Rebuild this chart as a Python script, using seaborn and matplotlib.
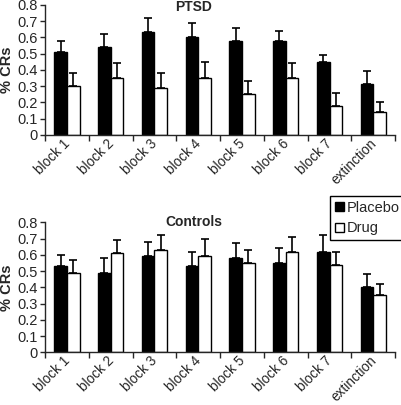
import matplotlib
matplotlib.use("Agg")
import matplotlib.pyplot as plt
import matplotlib.transforms as mtransforms
import seaborn as sns
import pandas as pd
from matplotlib.patches import Patch

blocks = ["block 1", "block 2", "block 3", "block 4", "block 5", "block 6", "block 7", "extinction"]
groups = ["Placebo", "Drug"]

ptsd_placebo = [0.51, 0.54, 0.63, 0.60, 0.58, 0.58, 0.45, 0.31]
ptsd_placebo_err = [0.07, 0.08, 0.09, 0.09, 0.08, 0.06, 0.04, 0.08]
ptsd_drug = [0.30, 0.35, 0.29, 0.35, 0.25, 0.35, 0.18, 0.14]
ptsd_drug_err = [0.08, 0.09, 0.09, 0.10, 0.08, 0.09, 0.08, 0.06]

ctrl_placebo = [0.53, 0.49, 0.59, 0.53, 0.58, 0.55, 0.62, 0.40]
ctrl_placebo_err = [0.07, 0.09, 0.09, 0.09, 0.09, 0.09, 0.10, 0.08]
ctrl_drug = [0.49, 0.61, 0.63, 0.59, 0.55, 0.62, 0.54, 0.35]
ctrl_drug_err = [0.08, 0.08, 0.09, 0.11, 0.08, 0.09, 0.08, 0.07]


def make_df(placebo, drug):
    rows = []
    for b, p, d in zip(blocks, placebo, drug):
        rows.append({"block": b, "group": "Placebo", "crs": p})
        rows.append({"block": b, "group": "Drug", "crs": d})
    return pd.DataFrame(rows)


def draw_panel(fig, ax, placebo, placebo_err, drug, drug_err, title, title_y):
    df = make_df(placebo, drug)
    sns.barplot(data=df, x="block", y="crs", hue="group", order=blocks,
                hue_order=groups, palette={"Placebo": "black", "Drug": "white"},
                edgecolor="black", linewidth=1, width=0.58, errorbar=None,
                legend=False, ax=ax)
    # one-sided error bars, drawn from the bar tops
    for cont, errs in zip(ax.containers, [placebo_err, drug_err]):
        for bar, e in zip(cont, errs):
            xc = bar.get_x() + bar.get_width() / 2
            h = bar.get_height()
            ax.errorbar(xc, h, yerr=[[0], [e]], fmt="none", ecolor="black",
                        elinewidth=1.2, capsize=3, capthick=1.2)
    ax.set_xlim(-0.5, len(blocks) - 0.5)
    ax.set_ylim(0, 0.8)
    ax.set_yticks([0, 0.1, 0.2, 0.3, 0.4, 0.5, 0.6, 0.7, 0.8])
    ax.set_yticklabels(["0", "0.1", "0.2", "0.3", "0.4", "0.5", "0.6", "0.7", "0.8"])
    ax.set_xticks(range(len(blocks)))
    ax.set_xticklabels(blocks, rotation=45, ha="right")
    ax.set_xticks([i - 0.5 for i in range(len(blocks) + 1)], minor=True)
    ax.tick_params(axis="x", which="major", length=0, pad=1, labelsize=9.8)
    ax.tick_params(axis="x", which="minor", length=4, width=1)
    ax.tick_params(axis="y", length=3.5, width=1, labelsize=10.5, pad=2)
    shift = mtransforms.ScaledTranslation(4 / 72, 0, fig.dpi_scale_trans)
    for lab in ax.get_xticklabels():
        lab.set_transform(lab.get_transform() + shift)
    sns.despine(ax=ax)
    for s in ["left", "bottom"]:
        ax.spines[s].set_linewidth(1)
    ax.set_xlabel("")
    ax.set_ylabel("% CRs", fontsize=10.5, fontweight="bold", labelpad=2)
    ax.text(0.425, title_y, title, transform=ax.transAxes, ha="center",
            va="center", fontsize=10, fontweight="bold")


sns.set_style("ticks")
plt.rcParams["font.family"] = ["Liberation Sans", "DejaVu Sans"]

fig = plt.figure(figsize=(4.02, 4.05), dpi=100)
ax1 = fig.add_axes([0.112, 0.667, 0.871, 0.321])
ax2 = fig.add_axes([0.112, 0.130, 0.871, 0.321])

draw_panel(fig, ax1, ptsd_placebo, ptsd_placebo_err, ptsd_drug, ptsd_drug_err, "PTSD", 0.985)
draw_panel(fig, ax2, ctrl_placebo, ctrl_placebo_err, ctrl_drug, ctrl_drug_err, "Controls", 1.0)

handles = [Patch(facecolor="black", edgecolor="black"),
           Patch(facecolor="white", edgecolor="black")]
fig.legend(handles, groups, loc="upper left", bbox_to_anchor=(0.822, 0.515),
           frameon=True, fancybox=False, edgecolor="black", framealpha=1,
           fontsize=10.5, handlelength=0.6, handleheight=0.6, handletextpad=0.2,
           borderpad=0.3, labelspacing=0.45, borderaxespad=0)

fig.savefig("out.png", dpi=100)
